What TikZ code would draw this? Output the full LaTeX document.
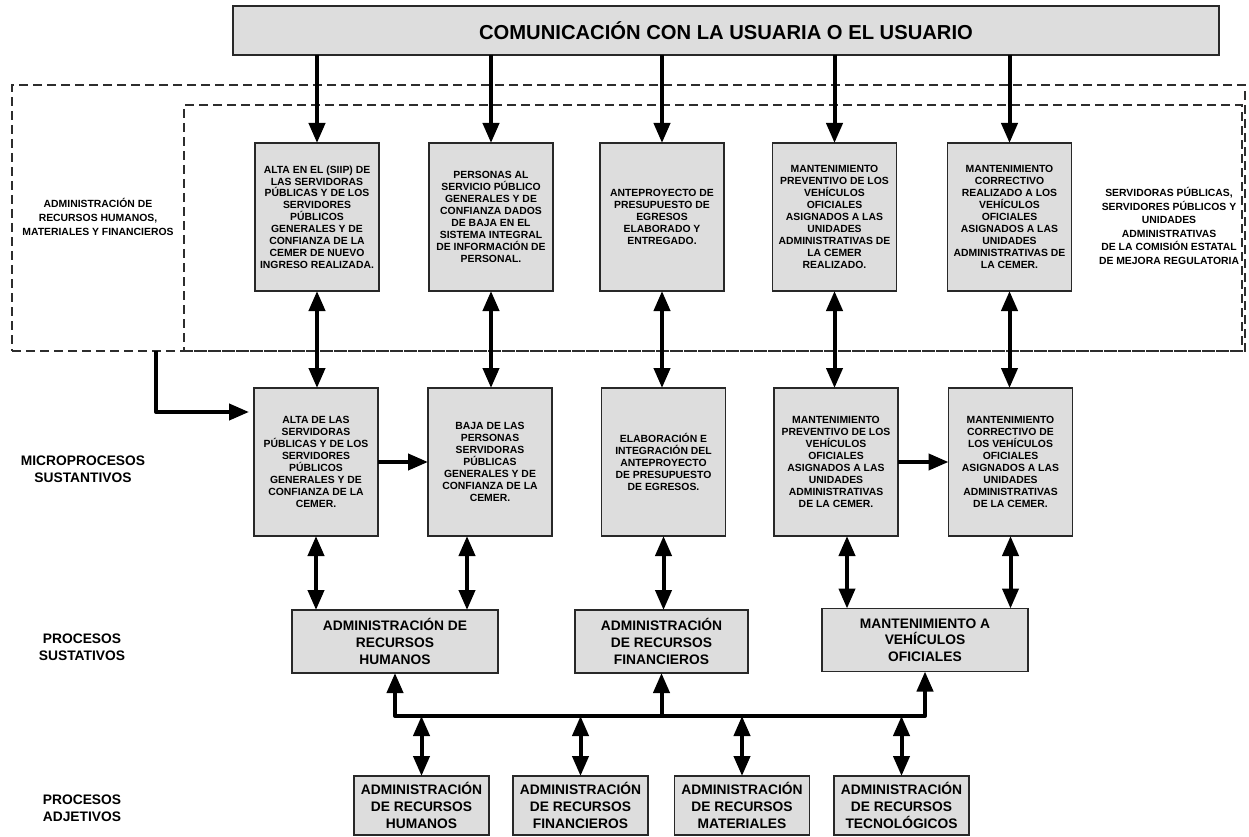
\documentclass[tikz,border=0pt]{standalone}
\usepackage{fontspec}
\setmainfont{Liberation Sans}
\usetikzlibrary{arrows.meta}
\definecolor{boxfill}{RGB}{221,221,221}
\definecolor{boxline}{RGB}{40,40,40}
\definecolor{dashline}{RGB}{45,45,45}
% type sizes
\newcommand\fntS{\fontsize{10.4}{11.9}\selectfont\bfseries}
\newcommand\fntR{\fontsize{10.4}{13.6}\selectfont\bfseries}
\newcommand\fntL{\fontsize{13.8}{16.6}\selectfont\bfseries}
\newcommand\fntT{\fontsize{20.2}{24}\selectfont\bfseries}

\begin{document}
\begin{tikzpicture}[x=1pt,y=-1pt,
  box/.style={draw=boxline, fill=boxfill, line width=1.2pt, inner sep=0pt, outer sep=0pt, align=center},
  ubox/.style={box, minimum width=124pt, minimum height=148pt, font=\fntS},
  pbox/.style={box, minimum height=63pt, font=\fntL},
  bbox/.style={box, minimum width=135pt, minimum height=59pt, font=\fntL},
  region/.style={draw=dashline, line width=1.2pt, dash pattern=on 9pt off 5pt, inner sep=0pt, outer sep=0pt},
  lbl/.style={align=center, inner sep=0pt},
  arr/.style={line width=4pt, line join=round, -{Triangle[width=16pt,length=20pt]}},
  darr/.style={line width=4pt, {Triangle[width=16pt,length=20pt]}-{Triangle[width=16pt,length=20pt]}},
]
\useasboundingbox (0,0) rectangle (1249,837);

% dashed areas
\node[region, minimum width=1233pt, minimum height=266pt] (outer) at (628.5,218) {};
\node[region, minimum width=1058pt, minimum height=246pt] (inner) at (713,228) {};

% title
\node[box, minimum width=986pt, minimum height=49pt, font=\fntT] (top) at (726,30.5)
  {COMUNICACIÓN CON LA USUARIA O EL USUARIO};

% area labels
\node[lbl, font=\fntR] (lblAdm) at (98,217)
  {ADMINISTRACIÓN DE\\RECURSOS HUMANOS,\\MATERIALES Y FINANCIEROS};
\node[lbl, font=\fntR] (lblSrv) at (1169,226)
  {SERVIDORAS PÚBLICAS,\\SERVIDORES PÚBLICOS Y\\UNIDADES\\ADMINISTRATIVAS\\DE LA COMISIÓN ESTATAL\\DE MEJORA REGULATORIA};

% row labels
\node[lbl, font=\fntL] (rowMicro) at (83,469) {MICROPROCESOS\\SUSTANTIVOS};
\node[lbl, font=\fntL] (rowSust) at (82,647) {PROCESOS\\SUSTATIVOS};
\node[lbl, font=\fntL] (rowAdj) at (82,808) {PROCESOS\\ADJETIVOS};

% products
\node[ubox] (u1) at (317,217) {ALTA EN EL (SIIP) DE\\LAS SERVIDORAS\\PÚBLICAS Y DE LOS\\SERVIDORES\\PÚBLICOS\\GENERALES Y DE\\CONFIANZA DE LA\\CEMER DE NUEVO\\INGRESO REALIZADA.};
\node[ubox] (u2) at (491,217) {PERSONAS AL\\SERVICIO PÚBLICO\\GENERALES Y DE\\CONFIANZA DADOS\\DE BAJA EN EL\\SISTEMA INTEGRAL\\DE INFORMACIÓN DE\\PERSONAL.};
\node[ubox] (u3) at (662,217) {ANTEPROYECTO DE\\PRESUPUESTO DE\\EGRESOS\\ELABORADO Y\\ENTREGADO.};
\node[ubox] (u4) at (834.5,217) {MANTENIMIENTO\\PREVENTIVO DE LOS\\VEHÍCULOS\\OFICIALES\\ASIGNADOS A LAS\\UNIDADES\\ADMINISTRATIVAS DE\\LA CEMER\\REALIZADO.};
\node[ubox] (u5) at (1009.5,217) {MANTENIMIENTO\\CORRECTIVO\\REALIZADO A LOS\\VEHÍCULOS\\OFICIALES\\ASIGNADOS A LAS\\UNIDADES\\ADMINISTRATIVAS DE\\LA CEMER.};

% microprocesses
\node[ubox] (m1) at (316,462) {ALTA DE LAS\\SERVIDORAS\\PÚBLICAS Y DE LOS\\SERVIDORES\\PÚBLICOS\\GENERALES Y DE\\CONFIANZA DE LA\\CEMER.};
\node[ubox] (m2) at (490,462) {BAJA DE LAS\\PERSONAS\\SERVIDORAS\\PÚBLICAS\\GENERALES Y DE\\CONFIANZA DE LA\\CEMER.};
\node[ubox] (m3) at (663.5,462) {ELABORACIÓN E\\INTEGRACIÓN DEL\\ANTEPROYECTO\\DE PRESUPUESTO\\DE EGRESOS.};
\node[ubox] (m4) at (836,462) {MANTENIMIENTO\\PREVENTIVO DE LOS\\VEHÍCULOS\\OFICIALES\\ASIGNADOS A LAS\\UNIDADES\\ADMINISTRATIVAS\\DE LA CEMER.};
\node[ubox] (m5) at (1010.5,462) {MANTENIMIENTO\\CORRECTIVO DE\\LOS VEHÍCULOS\\OFICIALES\\ASIGNADOS A LAS\\UNIDADES\\ADMINISTRATIVAS\\DE LA CEMER.};

% substantive processes
\node[pbox, minimum width=206pt] (pa) at (395,641.5) {ADMINISTRACIÓN DE\\RECURSOS\\HUMANOS};
\node[pbox, minimum width=173pt] (pb) at (661.5,641.5) {ADMINISTRACIÓN\\DE RECURSOS\\FINANCIEROS};
\node[pbox, minimum width=206pt] (pc) at (925,640) {MANTENIMIENTO A\\VEHÍCULOS\\OFICIALES};

% support processes
\node[bbox] (b1) at (421.5,805.5) {ADMINISTRACIÓN\\DE RECURSOS\\HUMANOS};
\node[bbox] (b2) at (580.5,805.5) {ADMINISTRACIÓN\\DE RECURSOS\\FINANCIEROS};
\node[bbox] (b3) at (742,805.5) {ADMINISTRACIÓN\\DE RECURSOS\\MATERIALES};
\node[bbox] (b4) at (901.5,805.5) {ADMINISTRACIÓN\\DE RECURSOS\\TECNOLÓGICOS};

% title to products
\foreach \n in {u1,u2,u3,u4,u5}
  \draw[arr] (top.south -| \n.north) -- (\n.north);

% products to microprocesses
\draw[darr] (u1.south) -- (u1.south |- m1.north);
\draw[darr] (u2.south) -- (u2.south |- m2.north);
\draw[darr] (u3.south) -- (u3.south |- m3.north);
\draw[darr] (u4.south) -- (u4.south |- m4.north);
\draw[darr] (u5.south) -- (u5.south |- m5.north);

% area entry and sequence arrows
\coordinate (lstart) at (156,351);
\draw[arr] (lstart) |- ([xshift=-5pt,yshift=50pt]m1.west);
\draw[arr] (m1.east) -- (m2.west);
\draw[arr] (m4.east) -- (m5.west);

% microprocesses to processes
\draw[darr] (m1.south) -- (m1.south |- pa.north);
\draw[darr] ([xshift=-23pt]m2.south) -- ([xshift=-23pt]m2.south |- pa.north);
\draw[darr] (m3.south) -- (m3.south |- pb.north);
\draw[darr] ([xshift=11pt]m4.south) -- ([xshift=11pt]m4.south |- pc.north);
\draw[darr] (m5.south) -- (m5.south |- pc.north);

% support bus
\coordinate (busL) at (395,716);
\coordinate (busR) at (925,716);
\draw[line width=4pt, line join=round, {Triangle[width=16pt,length=20pt]}-{Triangle[width=16pt,length=20pt]}]
  (pa.south) -- (busL) -- (busR) -- (pc.south);
\draw[arr] (pb.south |- busL) -- (pb.south);
\foreach \n in {b1,b2,b3,b4}
  \draw[darr] (\n.north |- busL) -- (\n.north);
\end{tikzpicture}
\end{document}
